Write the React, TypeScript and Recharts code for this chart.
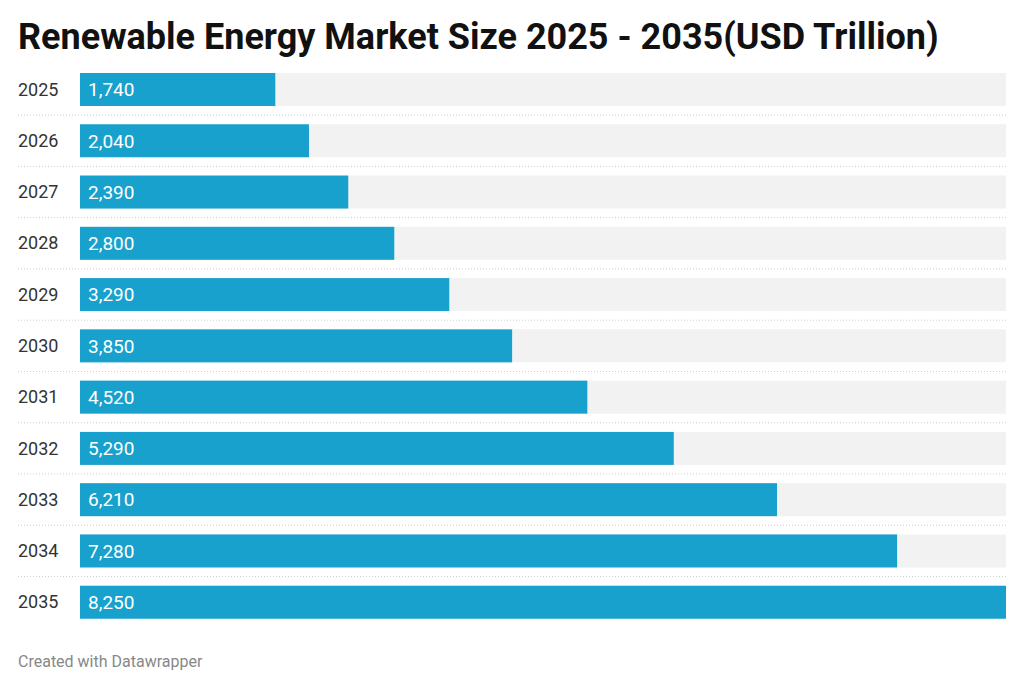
import React from "react";
import { BarChart, Bar, XAxis, YAxis, LabelList } from "recharts";

const years = ["2025", "2026", "2027", "2028", "2029", "2030", "2031", "2032", "2033", "2034", "2035"];
const values = [1740, 2040, 2390, 2800, 3290, 3850, 4520, 5290, 6210, 7280, 8250];

const data = years.map((year, i) => ({ year, value: values[i] }));

const BarShape = (props: any) => {
  const { x, y, width, height, index, fill } = props;
  const gap = (51.2 - height) / 2;
  return (
    <g>
      <rect x={x} y={y} width={width} height={height} fill={fill} />
      {index < years.length - 1 && (
        <line x1={18} x2={1006} y1={y + height + gap} y2={y + height + gap} stroke="#cccccc" strokeDasharray="1 2" />
      )}
    </g>
  );
};

const YearTick = (props: any) => {
  const { y, payload } = props;
  return (
    <text x={18} y={y} dy={6} textAnchor="start" fontSize={18} fill="#333">
      {payload.value}
    </text>
  );
};

export default function App() {
  return (
    <div style={{ position: "absolute", left: 0, top: 0, width: 1024, height: 690, background: "#fff", fontFamily: "Roboto" }}>
      <div style={{ position: "absolute", left: 18, top: 16, fontSize: 36, fontWeight: 700, color: "#111", whiteSpace: "nowrap" }}>
        Renewable Energy Market Size 2025 - 2035(USD Trillion)
      </div>
      <BarChart
        width={1024}
        height={690}
        data={data}
        layout="vertical"
        margin={{ top: 64, bottom: 62, left: 18, right: 18 }}
        barSize={33}
      >
        <XAxis type="number" domain={[0, 8250]} hide />
        <YAxis type="category" dataKey="year" width={62} axisLine={false} tickLine={false} tick={<YearTick />} />
        <Bar
          dataKey="value"
          fill="#18a1cd"
          background={{ fill: "#f2f2f2" }}
          shape={<BarShape />}
          isAnimationActive={false}
        >
          <LabelList
            dataKey="value"
            position="insideLeft"
            offset={8}
            fill="#fff"
            fontSize={19}
            formatter={(v: any) => Number(v).toLocaleString("en-US")}
          />
        </Bar>
      </BarChart>
      <div style={{ position: "absolute", left: 18, top: 652, fontSize: 16, color: "#888" }}>Created with Datawrapper</div>
    </div>
  );
}
